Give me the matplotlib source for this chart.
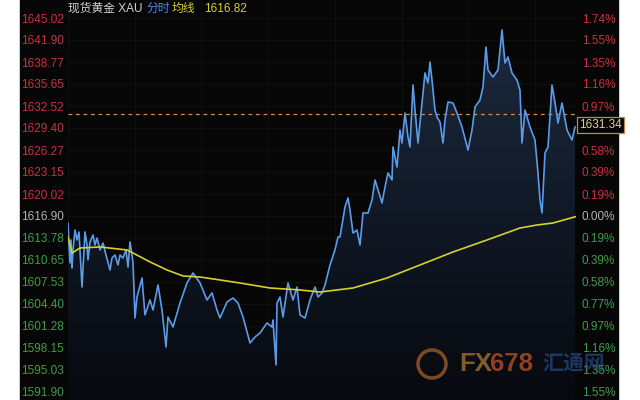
import numpy as np
import matplotlib
matplotlib.use("Agg")
import matplotlib.pyplot as plt
from matplotlib.patches import Rectangle, Ellipse
from matplotlib.colors import LinearSegmentedColormap

plt.rcParams['font.family'] = ['Liberation Sans', 'Noto Sans CJK SC', 'DejaVu Sans']

# minute index of each sample and the spot gold price
minutes = [0, 1, 2, 3, 4, 5, 7, 9, 11, 14, 16, 17, 19, 20, 22, 25, 27, 29, 32, 35,
           38, 42, 44, 47, 50, 52, 55, 58, 60, 62, 64, 65, 67, 69, 74, 77,
           82, 85, 90, 94, 98, 100, 105, 112, 119, 125, 132, 139, 144, 149, 152,
           159, 165, 170, 175, 182, 187, 192, 199, 204, 205, 208, 209, 212, 215,
           220, 225, 229, 232, 237, 242, 247, 250, 254, 257, 262, 267, 270, 272,
           277, 280, 282, 285, 289, 292, 295, 300, 304, 307, 310, 314, 317, 320,
           324, 325, 329, 332, 334, 337, 340, 342, 345, 347, 350, 354, 357, 360,
           362, 364, 367, 369, 372, 375, 377, 380, 385, 389, 394, 400, 404, 407,
           412, 415, 418, 420, 425, 430, 434, 437, 440, 444, 449, 452, 454, 457,
           462, 467, 470, 472, 474, 477, 480, 484, 487, 490, 494, 499, 504, 507]
price = [1615.90, 1612.78, 1610.22, 1613.49, 1609.51, 1612.07, 1614.91, 1613.49,
         1614.63, 1606.81, 1612.07, 1614.63, 1612.78, 1610.65, 1613.21, 1614.20,
         1612.78, 1613.77, 1612.07, 1613.06, 1611.36, 1609.23, 1610.93, 1611.36,
         1609.94, 1611.36, 1610.93, 1612.07, 1609.65, 1613.21, 1611.36, 1610.22,
         1602.41,
         1605.39, 1608.09, 1602.84, 1604.97, 1603.55, 1607.10, 1603.55, 1598.29,
         1602.55, 1601.13, 1604.54, 1607.38, 1608.80, 1607.38, 1604.97, 1605.96,
         1603.55, 1602.41, 1604.68, 1605.25, 1604.54, 1602.55, 1598.86, 1599.71,
         1600.28, 1601.70, 1601.13, 1602.13, 1595.74, 1604.54, 1605.39, 1602.55,
         1607.38, 1604.97, 1606.81, 1602.84, 1602.41, 1604.97, 1606.81, 1605.39,
         1605.96, 1607.10, 1609.94, 1612.07, 1613.92, 1613.92, 1618.18, 1619.46,
         1617.75, 1614.48, 1614.91, 1612.78, 1617.32, 1617.32, 1619.17, 1622.01,
         1620.59, 1618.75, 1621.02, 1623.01, 1622.01, 1626.70, 1623.86, 1629.11,
         1627.27, 1631.53, 1628.12, 1626.70, 1635.50, 1631.95, 1627.27, 1632.95,
         1637.21, 1635.79, 1638.77, 1636.21, 1631.95, 1630.96, 1630.25, 1627.27,
         1630.53, 1633.09, 1632.95, 1631.53, 1629.54, 1626.27, 1629.11, 1632.38,
         1633.37, 1635.22, 1640.90, 1637.64, 1636.64, 1637.64, 1643.32, 1638.63,
         1639.48, 1637.21, 1636.21, 1634.79, 1627.27, 1631.95, 1629.54, 1627.69,
         1623.01, 1619.17, 1617.32, 1625.85, 1626.70, 1635.50, 1632.95, 1630.11,
         1632.95, 1629.11, 1627.69, 1629.54]

# average price line
avg_minutes = [0, 4, 12, 32, 59, 65, 82, 99, 115, 132, 152, 172, 202, 232, 252,
               285, 319, 352, 385, 419, 452, 469, 485, 508]
avg_price = [1613.92, 1611.64, 1612.35, 1612.50, 1612.07, 1611.64, 1610.37,
             1609.23, 1608.38, 1608.23, 1607.81, 1607.38, 1606.67, 1606.39,
             1606.10, 1606.67, 1608.09, 1609.94, 1611.79, 1613.49, 1615.19,
             1615.62, 1615.90, 1616.82]

prev_close = 1616.90
last_price = 1631.34
avg_last = 1616.82

price_labels = ['1645.02', '1641.90', '1638.77', '1635.65', '1632.52', '1629.40',
                '1626.27', '1623.15', '1620.02', '1616.90', '1613.78', '1610.65',
                '1607.53', '1604.40', '1601.28', '1598.15', '1595.03', '1591.90']
# the 0.77% label above the close is hidden by the last price tag
pct_labels = ['1.74%', '1.55%', '1.35%', '1.16%', '0.97%', '', '0.58%', '0.39%',
              '0.19%', '0.00%', '0.19%', '0.39%', '0.58%', '0.77%', '0.97%', '1.16%',
              '1.35%', '1.55%']
levels = [float(s) for s in price_labels]

bg = '#060607'
red = '#c8323c'
green = '#3d9e46'
grey = '#b4b4b4'

fig = plt.figure(figsize=(6.4, 4), dpi=100, facecolor='white')
fig.patches.append(Rectangle((20 / 640, 0), 598 / 640, 1, transform=fig.transFigure,
                             color=bg, zorder=-5))
ax = fig.add_axes([68 / 640, 0, 508 / 640, 1])
ax.set_facecolor(bg)
ylo, yhi = 1590.76, 1647.58
ax.set_xlim(0, 508)
ax.set_ylim(ylo, yhi)

# faint grid
for lv in levels:
    ax.axhline(lv, color='#0f0f12', lw=0.8, zorder=0.5)
for k in range(8):
    ax.axvline(k * 66.7, color='#0f0f12', lw=0.8, zorder=0.5)

# gradient fill under the price line
fill = ax.fill_between(minutes, price, ylo, color='none', lw=0)
cmap = LinearSegmentedColormap.from_list('fill', ['#07090e', '#111a28', '#1f2d42'])
grad = np.linspace(0, 1, 256).reshape(-1, 1)
img = ax.imshow(grad, extent=[0, 508, ylo, yhi], origin='lower', aspect='auto',
                cmap=cmap, zorder=1)
img.set_clip_path(fill.get_paths()[0], transform=ax.transData)

ax.plot(minutes, price, color='#5b9be8', lw=1.2, zorder=3)
ax.plot(avg_minutes, avg_price, color='#d6d02c', lw=1.2, zorder=4)
ax.axhline(last_price, color='#d58a48', lw=0.9, ls=(0, (3, 3)), zorder=2)

for s in ax.spines.values():
    s.set_visible(False)
ax.set_xticks([])
ax.set_yticks(levels)
ax.set_yticklabels(price_labels)
ax.tick_params(axis='y', length=0, pad=3, labelsize=8.5)
for lab, lv in zip(ax.get_yticklabels(), levels):
    lab.set_color(red if lv > prev_close else (grey if lv == prev_close else green))

ax2 = ax.twinx()
ax2.set_ylim(ylo, yhi)
for s in ax2.spines.values():
    s.set_visible(False)
ax2.set_yticks(levels)
ax2.set_yticklabels(pct_labels)
ax2.tick_params(axis='y', length=0, pad=4, labelsize=8.5)
for lab, lv in zip(ax2.get_yticklabels(), levels):
    lab.set_color(red if lv > prev_close else (grey if lv == prev_close else green))

# last price tag on the right
fig.text(579 / 640, 1 - 125 / 400, f'{last_price:.2f}', color='#e6cfa6', fontsize=8.5,
         ha='left', va='center',
         bbox=dict(boxstyle='square,pad=0.15', fc=bg, ec='#c08a48', lw=0.9))

# header
hy = 1 - 9 / 400
fig.text(68 / 640, hy, '现货黄金 XAU', color='#d2d2d2', fontsize=8.5, va='center')
fig.text(146 / 640, hy, '分时', color='#4a8fe0', fontsize=8.5, va='center')
fig.text(172 / 640, hy, '均线', color='#d6d02c', fontsize=8.5, va='center')
fig.text(204 / 640, hy, f'{avg_last:.2f}', color='#d6d02c', fontsize=8.5, va='center')

# watermark
fig.patches.append(Ellipse((432 / 640, 1 - 364 / 400), 28 / 640, 28 / 400,
                           transform=fig.transFigure, fc='none', ec='#9a5a28',
                           lw=2.5, alpha=0.8, zorder=5))
fig.text(459 / 640, 1 - 364 / 400, 'FX', color='#9a6a2a', fontsize=18.5, weight='bold',
         va='center', alpha=0.85, zorder=6)
fig.text(490 / 640, 1 - 364 / 400, '678', color='#a84a24', fontsize=18.5, weight='bold',
         va='center', alpha=0.85, zorder=6)
fig.text(542 / 640, 1 - 364 / 400, '汇通网', color='#2f5aa8', fontsize=15, weight='bold',
         va='center', alpha=0.55, zorder=6, family=['Noto Sans CJK SC', 'DejaVu Sans'])

fig.savefig('out.png', dpi=100, facecolor=fig.get_facecolor())
